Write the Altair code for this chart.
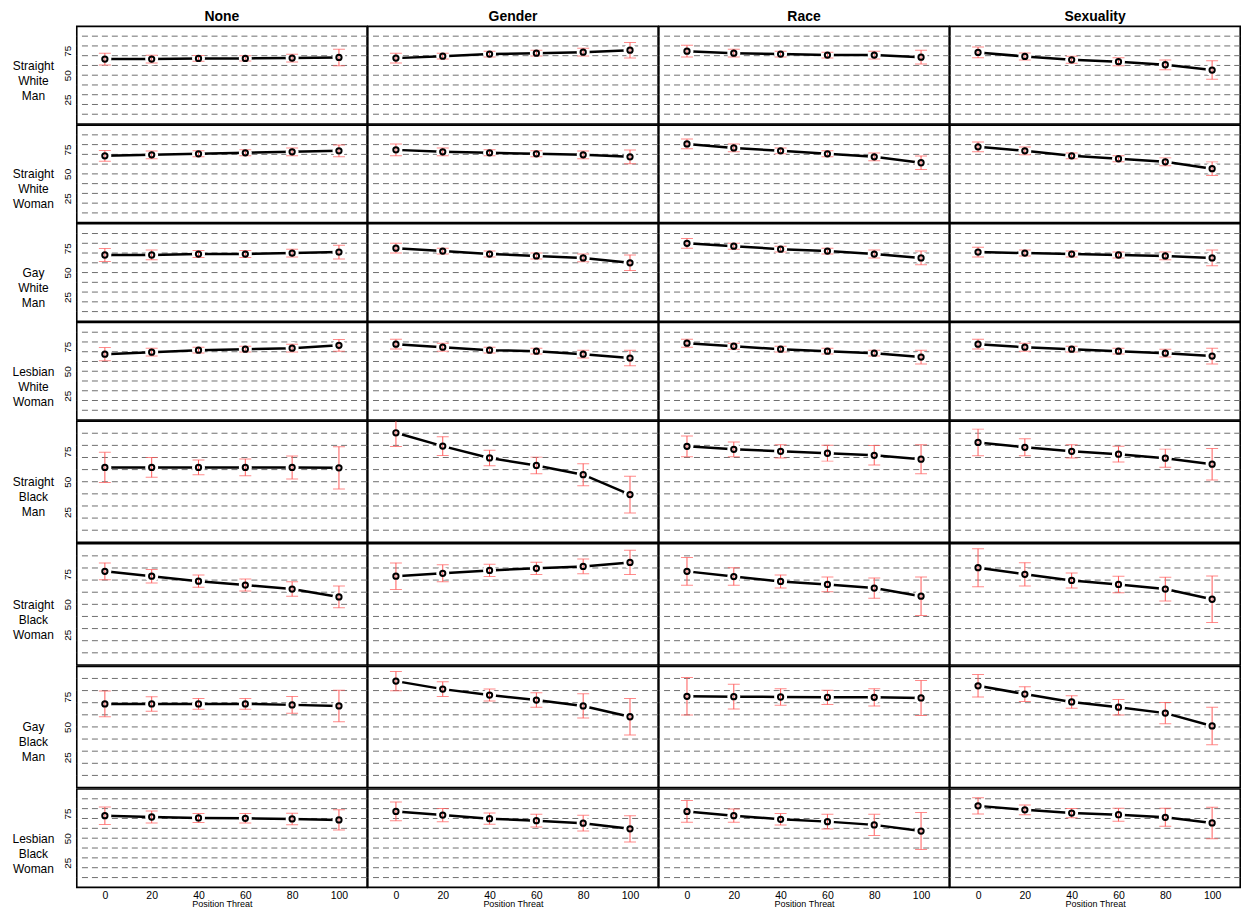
import altair as alt
import pandas as pd

threat = [0, 20, 40, 60, 80, 100]
conditions = ["None", "Gender", "Race", "Sexuality"]
targets = [
    ["Straight", "White", "Man"],
    ["Straight", "White", "Woman"],
    ["Gay", "White", "Man"],
    ["Lesbian", "White", "Woman"],
    ["Straight", "Black", "Man"],
    ["Straight", "Black", "Woman"],
    ["Gay", "Black", "Man"],
    ["Lesbian", "Black", "Woman"],
]
y_ticks = [25, 50, 75]
grid_levels = [10, 20, 30, 40, 50, 60, 70, 80, 90]

# means per condition (None, Gender, Race, Sexuality) and half-widths of error bars
swm_mean = [[66.5, 66.5, 67.2, 67.2, 67.5, 68.2],
            [67.5, 69.5, 71.6, 72.6, 73.6, 75.6],
            [74.6, 72.6, 71.6, 70.6, 70.6, 68.5],
            [73.3, 69.2, 65.8, 63.8, 60.7, 55.3]]
swm_err = [[6, 4, 3, 2.7, 4, 8.5], [5, 3, 3, 3, 4, 8], [6, 4, 3, 3, 4, 7], [5.5, 3.5, 3.5, 4, 5, 9.5]]

sww_mean = [[68.5, 69.5, 70.6, 71.6, 72.6, 73.6],
            [74.6, 72.6, 71.6, 70.6, 69.5, 67.5],
            [80.7, 76.6, 73.6, 70.6, 67.5, 61.4],
            [77.7, 73.6, 68.5, 65.5, 62.4, 55.3]]
sww_err = [[5.5, 4, 3, 3, 4, 6], [6, 4, 3, 3, 4, 7], [5, 4, 3, 3, 4, 7], [5, 4, 3, 3, 4, 7]]

gwm_mean = [[68, 68, 69, 69, 70, 71],
            [75, 72, 69, 67, 65, 60],
            [80, 77, 74, 72, 69, 65],
            [71, 70, 69, 68, 67, 65]]
gwm_err = [[6.7, 5, 3.5, 3.5, 4, 7], [5, 3, 3, 3, 4, 8], [5, 3, 3, 3, 4, 7], [5, 3, 3, 3, 4, 8]]

lww_mean = [[67.5, 69.5, 71.6, 72.6, 73.6, 76.6],
            [77.7, 74.6, 71.6, 70.6, 67.5, 63.5],
            [78.7, 75.6, 72.6, 70.6, 68.5, 64.5],
            [77.7, 74.6, 72.6, 70.6, 68.5, 65.5]]
lww_err = [[6.7, 4, 3, 3, 4, 6], [5, 4, 3, 3, 4, 8], [4, 3, 3, 3, 3, 7], [5, 4, 3, 3, 4, 8]]

sbm_mean = [[61.8, 61.8, 61.8, 61.8, 61.8, 61.5],
            [90.4, 79.4, 69.6, 63.4, 55.8, 39.4],
            [79.2, 76.7, 75.1, 73.5, 71.8, 68.6],
            [82.4, 78.4, 75.1, 72.7, 69.4, 64.5]]
sbm_err = [[12.5, 8.2, 6.1, 6.9, 9.5, 17.4], [11.4, 7.8, 6.4, 6.9, 9.1, 15.1],
           [8.5, 6, 5.5, 6.5, 8, 12], [11, 7, 5.5, 6.5, 7.5, 13]]

sbw_mean = [[77.2, 73.2, 69.1, 65.9, 62.6, 56.1],
            [73.2, 75.6, 78.0, 79.7, 81.3, 84.6],
            [77.2, 72.9, 68.9, 66.4, 63.4, 56.7],
            [80.2, 74.8, 69.7, 66.4, 62.6, 54.2]]
sbw_err = [[7, 5.5, 5, 5, 6, 9], [11, 7, 5, 5, 6, 10],
           [11.5, 7.2, 5.4, 6.1, 8.4, 15.9], [15.7, 9.6, 6.2, 6.8, 9.8, 19.2]]

gbm_mean = [[69, 69, 69, 69, 68.2, 67.3],
            [87.8, 81.2, 76.3, 72.2, 67.3, 58.4],
            [75.3, 75.0, 74.7, 74.4, 74.4, 73.9],
            [83.9, 77.1, 70.6, 66.3, 61.4, 50.8]]
gbm_err = [[10.6, 6, 4.5, 4.5, 7, 13], [8, 6, 5, 6, 10, 15],
           [15.5, 10.3, 6.8, 5.9, 7.2, 14.4], [9.3, 6.1, 5.2, 6.4, 8.7, 15.4]]

lbw_mean = [[72.8, 71.5, 70.5, 70.2, 69.5, 68.5],
            [77.2, 73.5, 69.8, 67.8, 65.2, 59.5],
            [77.2, 72.8, 69.2, 66.8, 63.5, 57.2],
            [82.8, 78.8, 75.5, 73.8, 71.2, 65.5]]
lbw_err = [[8.8, 6, 4.5, 4.8, 5.8, 10.3], [9.5, 6.7, 5.7, 6.5, 8, 13.3],
           [11, 6.7, 5.8, 7.5, 10.7, 18.8], [8.3, 5, 4.7, 6.7, 9.2, 16]]

all_means = [swm_mean, sww_mean, gwm_mean, lww_mean, sbm_mean, sbw_mean, gbm_mean, lbw_mean]
all_errs = [swm_err, sww_err, gwm_err, lww_err, sbm_err, sbw_err, gbm_err, lbw_err]

row_heights = [97.9, 97.9, 97.9, 97.9, 121.6, 121.6, 121.6, 98.8]
PANEL_W = 291.2
FONT = "Liberation Sans"
ERR_COLOR = "#ff5a5a"

xscale = alt.Scale(domain=[-12, 112], nice=False, zero=False)
yscale = alt.Scale(domain=[0, 100], nice=False, zero=False)
grid_df = pd.DataFrame({"g": grid_levels})


def make_panel(ri, ci):
    h = row_heights[ri]
    last_row = ri == len(targets) - 1
    first_col = ci == 0
    df = pd.DataFrame({
        "threat": threat,
        "mean": all_means[ri][ci],
        "err": all_errs[ri][ci],
    })
    df["lo"] = df["mean"] - df["err"]
    df["hi"] = df["mean"] + df["err"]

    if last_row:
        xaxis = alt.Axis(values=threat, ticks=False, domain=False, grid=False,
                         labelFontSize=10.5, labelPadding=3, labelColor="black",
                         title="Position Threat", titleFontSize=9, titleFontWeight="normal",
                         titlePadding=-1, titleColor="black")
    else:
        xaxis = None
    if first_col:
        yaxis = alt.Axis(values=y_ticks, ticks=False, domain=False, grid=False,
                         labelAngle=270, labelAlign="center", labelBaseline="bottom",
                         labelFontSize=10, labelPadding=4, labelColor="black",
                         title=targets[ri], titleAngle=0, titleAlign="center",
                         titleBaseline="middle", titleX=-44,
                         titleY=(h / 2 - 10) if ri == 0 else h / 2,
                         titleFontSize=12, titleFontWeight="normal",
                         titleLineHeight=15, titleColor="black")
    else:
        yaxis = None

    X = alt.X("threat:Q", scale=xscale, axis=xaxis)

    def Y(field):
        return alt.Y(f"{field}:Q", scale=yscale, axis=yaxis)

    grid = alt.Chart(grid_df).mark_rule(color="#6e6e6e", strokeWidth=1,
                                        strokeDash=[6, 4]).encode(y=Y("g"))
    base = alt.Chart(df)
    line = base.mark_line(color="black", strokeWidth=2.5).encode(x=X, y=Y("mean"))
    halo = base.mark_circle(color="white", size=170, opacity=1).encode(x=X, y=Y("mean"))
    bar = base.mark_rule(color=ERR_COLOR, strokeWidth=1, clip=True).encode(
        x=X, y=Y("lo"), y2="hi")
    cap_lo = base.mark_tick(color=ERR_COLOR, thickness=1, size=12, orient="horizontal",
                            clip=True).encode(x=X, y=Y("lo"))
    cap_hi = base.mark_tick(color=ERR_COLOR, thickness=1, size=12, orient="horizontal",
                            clip=True).encode(x=X, y=Y("hi"))
    pts = base.mark_point(shape="circle", filled=False, color="black", strokeWidth=2,
                          size=28, opacity=1).encode(x=X, y=Y("mean"))

    layer = alt.layer(grid, line, halo, bar, cap_lo, cap_hi, pts).properties(
        width=PANEL_W, height=h)
    if ri == 0:
        layer = layer.properties(title=alt.TitleParams(
            conditions[ci], fontSize=14, fontWeight="bold", font=FONT,
            anchor="middle", offset=2, color="black"))
    return layer


rows = []
for ri in range(len(targets)):
    rows.append(alt.hconcat(*[make_panel(ri, ci) for ci in range(4)],
                            spacing=0, bounds="flush"))

chart = alt.vconcat(*rows, spacing=-1.6).properties(
    padding={"left": 3, "top": 0, "right": 0, "bottom": 0},
    background="white",
).configure(font=FONT).configure_view(stroke="black", strokeWidth=1.6, fill="white")

chart.save("out.html", embed_options={"renderer": "svg", "actions": False})
